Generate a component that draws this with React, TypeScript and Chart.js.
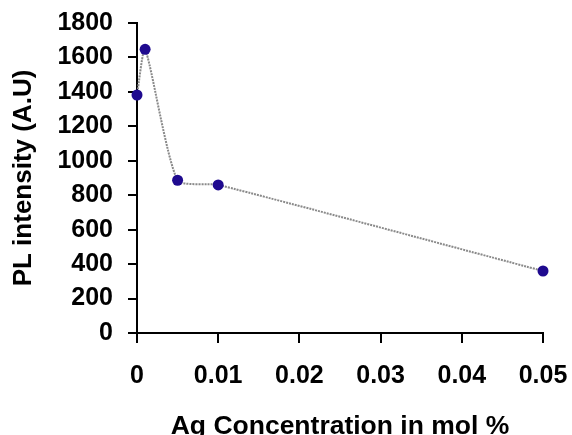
import React, { useEffect, useRef } from "react";
import { Chart, registerables } from "chart.js";

Chart.register(...registerables);

const concentrations = [0, 0.001, 0.005, 0.01, 0.05];
const intensities = [1382, 1647, 887, 860, 360];
const xTicks = [0, 0.01, 0.02, 0.03, 0.04, 0.05];
const yTicks = [0, 200, 400, 600, 800, 1000, 1200, 1400, 1600, 1800];

const FONT = "'Liberation Sans', Arial, sans-serif";

const noPad = (s: any) => {
  s.paddingTop = 0;
  s.paddingBottom = 0;
  s.paddingLeft = 0;
  s.paddingRight = 0;
};

export default function App() {
  const ref = useRef<HTMLCanvasElement | null>(null);

  useEffect(() => {
    if (!ref.current) return;
    const chart = new Chart(ref.current, {
      type: "line",
      data: {
        datasets: [
          {
            data: concentrations.map((x, i) => ({ x, y: intensities[i] })),
            borderColor: "#8a8a8a",
            borderWidth: 2,
            borderDash: [2, 1],
            tension: 0.2,
            clip: false,
            pointRadius: 5.5,
            pointBackgroundColor: "#1f0a8f",
            pointBorderColor: "#1f0a8f",
            pointBorderWidth: 0,
          },
        ],
      },
      options: {
        animation: false,
        responsive: false,
        layout: { padding: { top: 23, right: 29, left: 0, bottom: 0 } },
        plugins: { legend: { display: false }, tooltip: { enabled: false } },
        scales: {
          x: {
            type: "linear",
            min: 0,
            max: 0.05,
            afterBuildTicks: (s: any) => {
              s.ticks = xTicks.map((v) => ({ value: v }));
            },
            afterFit: (s: any) => {
              s.height = 435 - 23 - 310;
              noPad(s);
            },
            ticks: {
              color: "#000",
              font: { family: FONT, size: 25, weight: "bold" },
              padding: 18,
              callback: (v: any) => String(v),
            },
            grid: {
              drawOnChartArea: false,
              drawTicks: true,
              tickLength: 10,
              color: "#000",
              lineWidth: 2,
            },
            border: { display: true, color: "#000", width: 2 },
            title: {
              display: true,
              text: "Ag Concentration in mol %",
              color: "#000",
              font: { family: FONT, size: 26.5, weight: "bold", lineHeight: 0.6 },
              padding: { top: 0, bottom: 0 },
            },
          },
          y: {
            type: "linear",
            min: 0,
            max: 1800,
            afterBuildTicks: (s: any) => {
              s.ticks = yTicks.map((v) => ({ value: v }));
            },
            afterFit: (s: any) => {
              s.width = 137;
              noPad(s);
            },
            ticks: {
              color: "#000",
              font: { family: FONT, size: 25, weight: "bold" },
              padding: 15,
              callback: (v: any) => String(v),
            },
            grid: {
              drawOnChartArea: false,
              drawTicks: true,
              tickLength: 9,
              color: "#000",
              lineWidth: 2,
            },
            border: { display: true, color: "#000", width: 2 },
            title: {
              display: true,
              text: "PL intensity (A.U)",
              color: "#000",
              font: { family: FONT, size: 26, weight: "bold", lineHeight: 1.2 },
              padding: { top: 8, bottom: 0 },
            },
          },
        },
      },
    });
    return () => chart.destroy();
  }, []);

  return (
    <div style={{ position: "fixed", left: 0, top: 0, width: 572, height: 435, background: "#fff" }}>
      <canvas ref={ref} width={572} height={435} style={{ display: "block" }} />
    </div>
  );
}
